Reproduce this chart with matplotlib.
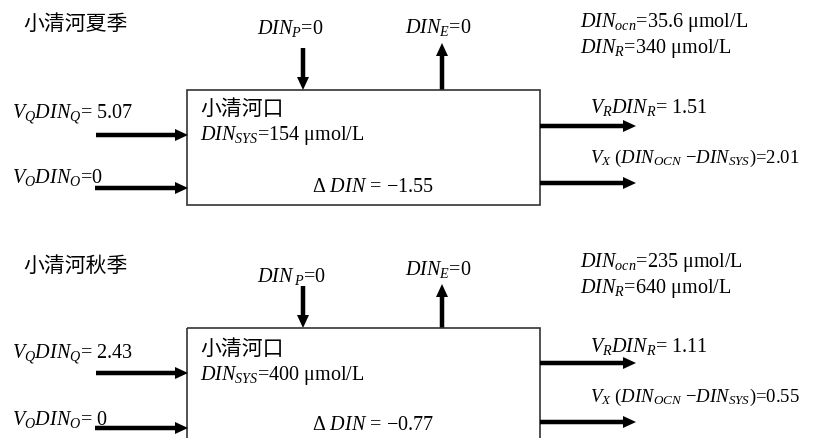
import matplotlib.pyplot as plt
from matplotlib.patches import Rectangle

plt.rcParams['font.family'] = ['Liberation Serif', 'Noto Sans CJK SC']
plt.rcParams['mathtext.fontset'] = 'custom'
plt.rcParams['mathtext.rm'] = 'Liberation Serif'
plt.rcParams['mathtext.it'] = 'Liberation Serif:italic'
plt.rcParams['mathtext.bf'] = 'Liberation Serif:bold'

# 数据：夏季、秋季
seasons = ["小清河夏季", "小清河秋季"]
din_p = ["0", "0"]
din_e = ["0", "0"]
din_ocn = ["35.6", "235"]
din_r = ["340", "640"]
vq_din_q = [" 5.07", " 2.43"]
vo_din_o = ["0", " 0"]
din_sys = ["154", "400"]
delta_din = ["−1.55", "−0.77"]
vr_din_r = ["1.51", "1.11"]
vx_din = ["2.01", "0.55"]

# 每个面板的纵向位置（像素，向下为正）
layout = [
    dict(title=25, p_txt=34, e_txt=33, p_arr=(48, 90), e_arr=(90, 43), ocn=27, r=53,
         box=(90, 205), vq_txt=118, vq_arr=135, vo_txt=183, vo_arr=188,
         mouth=110, sys=140, delta=192, vr_txt=113, vr_arr=126, vx_txt=163, vx_arr=183),
    dict(title=267, p_txt=282, e_txt=275, p_arr=(286, 328), e_arr=(328, 284), ocn=267, r=293,
         box=(328, 470), vq_txt=358, vq_arr=373, vo_txt=425, vo_arr=428,
         mouth=350, sys=380, delta=430, vr_txt=352, vr_arr=363, vx_txt=402, vx_arr=422),
]

fig = plt.figure(figsize=(8.14, 4.38), dpi=100)
ax = fig.add_axes([0, 0, 1, 1])
ax.set_xlim(0, 814)
ax.set_ylim(438, 0)
ax.axis('off')

FS = 14.5
BOX_L, BOX_R = 187, 540


def arrow(x0, y0, x1, y1):
    ax.arrow(x0, y0, x1 - x0, y1 - y0, width=4.5, head_width=12, head_length=13,
             length_includes_head=True, color='black', lw=0)


def txt(x, y, s, va='baseline', fs=FS):
    ax.text(x, y, s, fontsize=fs, ha='left', va=va, color='black')


for i, L in enumerate(layout):
    txt(23, L['title'], seasons[i], va='center', fs=15)

    p_lab = r"$DIN_P$=" if i == 0 else r"$DIN\,{}_P$="
    txt(257, L['p_txt'], p_lab + din_p[i])
    arrow(303, L['p_arr'][0], 303, L['p_arr'][1])
    txt(405, L['e_txt'], r"$DIN_E$=" + din_e[i])
    arrow(442, L['e_arr'][0], 442, L['e_arr'][1])

    txt(580, L['ocn'], r"$DIN_{ocn}$=" + din_ocn[i] + " μmol/L")
    txt(580, L['r'], r"$DIN_R$=" + din_r[i] + " μmol/L")

    top, bot = L['box']
    ax.add_patch(Rectangle((BOX_L, top), BOX_R - BOX_L, bot - top, fill=False,
                           edgecolor='#333333', lw=1.2))

    txt(12, L['vq_txt'], r"$V_QDIN_Q$=" + vq_din_q[i])
    arrow(96, L['vq_arr'], BOX_L + 1, L['vq_arr'])
    txt(12, L['vo_txt'], r"$V_ODIN_O$=" + vo_din_o[i])
    arrow(95, L['vo_arr'], BOX_L + 1, L['vo_arr'])

    txt(200, L['mouth'], "小清河口", va='center', fs=15)
    txt(200, L['sys'], r"$DIN_{SYS}$=" + din_sys[i] + " μmol/L")
    txt(312, L['delta'], r"Δ $DIN$ = " + delta_din[i])

    txt(590, L['vr_txt'], r"$V_RDIN_R$= " + vr_din_r[i])
    arrow(BOX_R, L['vr_arr'], 636, L['vr_arr'])
    txt(590, L['vx_txt'], r"$V_X$ ($DIN_{OCN}$ −$DIN_{SYS}$)=" + vx_din[i], fs=13.5)
    arrow(BOX_R, L['vx_arr'], 636, L['vx_arr'])

fig.savefig('out.png', dpi=100)
